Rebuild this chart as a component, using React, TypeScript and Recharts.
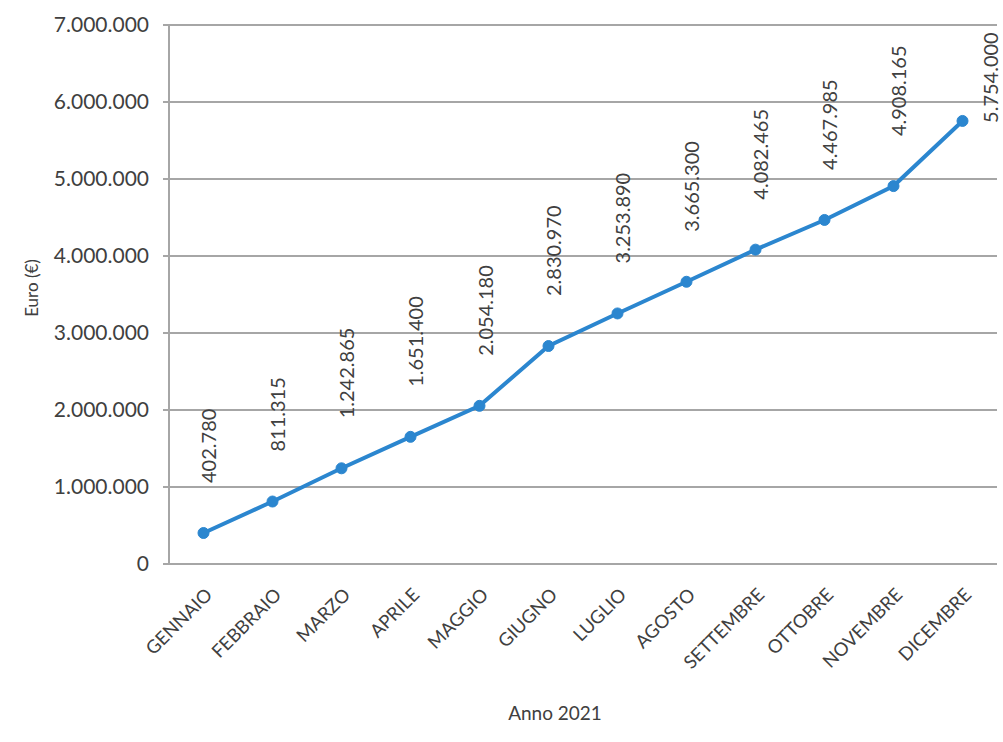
import { LineChart, Line, XAxis, YAxis, CartesianGrid, LabelList } from "recharts";

const months = [
  "GENNAIO",
  "FEBBRAIO",
  "MARZO",
  "APRILE",
  "MAGGIO",
  "GIUGNO",
  "LUGLIO",
  "AGOSTO",
  "SETTEMBRE",
  "OTTOBRE",
  "NOVEMBRE",
  "DICEMBRE",
];

const totals = [
  402780, 811315, 1242865, 1651400, 2054180, 2830970, 3253890, 3665300, 4082465, 4467985,
  4908165, 5754000,
];

const yTicks = [0, 1000000, 2000000, 3000000, 4000000, 5000000, 6000000, 7000000];

const data = months.map((month, i) => ({ month, total: totals[i] }));

const FONT = "Lato, 'Open Sans', sans-serif";
const TEXT = "#404040";
const GRID = "#a6a6a6";
const BLUE = "#2b86cf";

// thousands grouped with dots, e.g. 1.242.865
const fmt = (v: number) => String(Math.round(v)).replace(/\B(?=(\d{3})+(?!\d))/g, ".");

const MonthTick = (props: any) => {
  const { x, y, payload } = props;
  const tx = x + 10;
  const ty = y + 24;
  return (
    <text
      x={tx}
      y={ty}
      transform={`rotate(-45 ${tx} ${ty})`}
      textAnchor="end"
      fontFamily={FONT}
      fontSize={18.5}
      fill={TEXT}
    >
      {payload.value}
    </text>
  );
};

const ValueLabel = (props: any) => {
  const { x, y, value, index } = props;
  // the last value sits to the right of its point, the rest above
  const last = index === totals.length - 1;
  const bx = last ? x + 28 : x + 5;
  const by = last ? y + 2 : y - 50;
  return (
    <text
      x={bx}
      y={by}
      transform={`rotate(-90 ${bx} ${by})`}
      textAnchor="start"
      dominantBaseline="central"
      fontFamily={FONT}
      fontSize={20}
      fill={TEXT}
    >
      {fmt(value)}
    </text>
  );
};

export default function App() {
  return (
    <div
      style={{
        position: "absolute",
        left: 0,
        top: 0,
        width: 1003,
        height: 742,
        background: "#fff",
        fontFamily: FONT,
      }}
    >
      <LineChart
        width={1003}
        height={742}
        data={data}
        margin={{ top: 25, right: 6, left: 0, bottom: 0 }}
      >
        <CartesianGrid vertical={false} stroke={GRID} strokeWidth={2} />
        <XAxis
          dataKey="month"
          height={178}
          interval={0}
          padding={{ left: 34.5, right: 34.5 }}
          axisLine={{ stroke: GRID, strokeWidth: 2 }}
          tickLine={false}
          tick={<MonthTick />}
        />
        <YAxis
          width={169}
          domain={[0, 7000000]}
          ticks={yTicks}
          tickFormatter={fmt}
          axisLine={{ stroke: GRID, strokeWidth: 2 }}
          tickLine={{ stroke: GRID, strokeWidth: 2 }}
          tickSize={6}
          tickMargin={14}
          tick={{ fontFamily: FONT, fontSize: 21, fill: TEXT }}
        />
        <Line
          dataKey="total"
          stroke={BLUE}
          strokeWidth={4}
          dot={{ r: 5.5, fill: BLUE, stroke: BLUE, strokeWidth: 1 }}
          isAnimationActive={false}
        >
          <LabelList dataKey="total" content={<ValueLabel />} />
        </Line>
        <text
          x={31}
          y={288}
          transform="rotate(-90 31 288)"
          textAnchor="middle"
          dominantBaseline="central"
          fontFamily={FONT}
          fontSize={17}
          fill={TEXT}
        >
          Euro (€)
        </text>
        <text
          x={555}
          y={712}
          textAnchor="middle"
          dominantBaseline="central"
          fontFamily={FONT}
          fontSize={19}
          fill={TEXT}
        >
          Anno 2021
        </text>
      </LineChart>
    </div>
  );
}
